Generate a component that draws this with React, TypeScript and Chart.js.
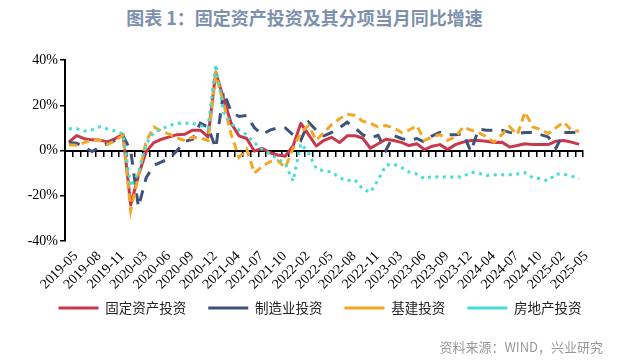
import React, { useEffect, useRef } from "react";
import { Chart, registerables } from "chart.js";

Chart.register(...registerables);

const months = [
  "2019-05", "2019-06", "2019-07", "2019-08", "2019-09", "2019-10", "2019-11", "2019-12",
  "2020-02", "2020-03", "2020-04", "2020-05", "2020-06", "2020-07", "2020-08", "2020-09", "2020-10", "2020-11", "2020-12",
  "2021-02", "2021-03", "2021-04", "2021-05", "2021-06", "2021-07", "2021-08", "2021-09", "2021-10", "2021-11", "2021-12",
  "2022-02", "2022-03", "2022-04", "2022-05", "2022-06", "2022-07", "2022-08", "2022-09", "2022-10", "2022-11", "2022-12",
  "2023-02", "2023-03", "2023-04", "2023-05", "2023-06", "2023-07", "2023-08", "2023-09", "2023-10", "2023-11", "2023-12",
  "2024-02", "2024-03", "2024-04", "2024-05", "2024-06", "2024-07", "2024-08", "2024-09", "2024-10", "2024-11", "2024-12",
  "2025-02", "2025-03", "2025-04", "2025-05",
];

// 固定资产投资 当月同比 (%)
const faiYoy = [
  3.7, 6.6, 5.2, 4.7, 4.6, 3.8, 5.3, 7.2,
  -24, -11, -0.5, 3.5, 5, 6, 7, 7.2, 9, 9, 6,
  34.5, 23, 12, 6.5, 5.3, -0.3, 1, -1, -2, -2.5, 2,
  12, 7, 2, 4.5, 5.8, 3.5, 6.5, 6.5, 5.5, 1, 3,
  5, 4.4, 3.6, 2.2, 3, 0.4, 1.9, 2.6, 0.4, 2.6, 3.7,
  4.4, 4.4, 4.1, 3.5, 3.7, 1.5, 2.2, 3, 2.6, 2.6, 2.6,
  4.1, 4.4, 3.7, 2.7,
];

// 制造业投资 当月同比 (%)
const mfgYoy = [
  3.5, 3.2, 1.5, -0.5, 1.5, 3, 4.5, 6.5,
  0, -25, -12, -6.5, -5, -3.5, 0, 4, 5, 12, 10.4,
  1, 26, 17, 15, 15.5, 10, 7, 9, 10, 10, 7,
  4.5, 12.5, 9, 6.5, 8, 10, 12.5, 10, 7, 5.5, 6.7,
  0, 6.7, 5.3, 4.4, 5.3, 3.7, 6.5, 8, 7, 7, 7.5,
  -0.5, 9.5, 9, 9, 9, 8, 7.5, 8, 8, 7, 6,
  1, 8, 8, 8,
];

// 基建投资 当月同比 (%)
const infraYoy = [
  2.5, 2.3, 3.5, 4.7, 4.5, 2.7, 4.4, 6.7,
  -26.5, -11, 4, 10.4, 8.5, 7.2, 5.5, 4.4, 5.9, 5.5, 4.4,
  33.5, 21, 7, -3, 0.5, -10, -7, -5, -4.5, -7.5, 1,
  8, 11, 4.5, 8, 11.5, 14, 16, 15.5, 13, 12, 10.4,
  11, 10, 8, 9, 11, 4.5, 6, 7, 4.5, 6, 10.4,
  9, 8, 6, 3.7, 7, 10.5, 7, 17, 10.4, 9.3, 7.5,
  10, 12.6, 9, 8.5,
];

// 房地产投资 当月同比 (%)
const reYoy = [
  9.6, 9.6, 8.6, 9.2, 10.5, 9.5, 8.6, 7.4,
  -16, -9.6, 3, 8, 9.5, 11, 12, 12, 12, 11, 10,
  38, 17, 12, 9, 7, 3.5, 0.5, -1.5, -3.5, -6, -13.5,
  3, -1, -8, -9, -9.5, -12, -13.3, -13, -17, -18.5, -13,
  -6.5, -6, -7.5, -9.5, -10.4, -12.5, -11.4, -11.8, -11.6, -11.8, -11.5,
  -9.6, -10, -11, -10.8, -10.7, -10.7, -10.4, -9.8, -12, -12.5, -13.4,
  -10.4, -10.5, -11.3, -12.4,
];

const seriesNames = ["固定资产投资", "制造业投资", "基建投资", "房地产投资"];
const yMin = -40;
const yMax = 40;
const yStep = 20;
const labelEvery = 3;
const titleText = "图表 1：固定资产投资及其分项当月同比增速";
const sourceText = "资料来源：WIND，兴业研究";

export default function App() {
  const ref = useRef<HTMLCanvasElement>(null);

  useEffect(() => {
    const chart = new Chart(ref.current as HTMLCanvasElement, {
      type: "line",
      data: {
        labels: months,
        datasets: [
          {
            label: seriesNames[0],
            data: faiYoy,
            borderColor: "#C9374B",
            backgroundColor: "#C9374B",
            borderWidth: 3,
            pointRadius: 0,
            tension: 0,
            borderJoinStyle: "round",
            order: 4,
          },
          {
            label: seriesNames[1],
            data: mfgYoy,
            borderColor: "#3E5379",
            backgroundColor: "#3E5379",
            borderWidth: 3,
            borderDash: [11, 9],
            pointRadius: 0,
            tension: 0,
            order: 3,
          },
          {
            label: seriesNames[2],
            data: infraYoy,
            borderColor: "#F5A623",
            backgroundColor: "#F5A623",
            borderWidth: 3,
            borderDash: [8, 5],
            pointRadius: 0,
            tension: 0,
            order: 2,
          },
          {
            label: seriesNames[3],
            data: reYoy,
            borderColor: "#45DDD5",
            backgroundColor: "#45DDD5",
            borderWidth: 3,
            borderDash: [3, 4.5],
            borderCapStyle: "butt",
            pointRadius: 0,
            tension: 0,
            order: 1,
          },
        ],
      },
      options: {
        responsive: false,
        animation: false,
        devicePixelRatio: 1,
        layout: { padding: { left: 0, right: 0, top: 60, bottom: 37.25 } },
        plugins: {
          title: { display: false },
          tooltip: { enabled: false },
          legend: {
            position: "bottom",
            labels: {
              usePointStyle: true,
              pointStyle: "line",
              pointStyleWidth: 40,
              padding: 22,
              color: "#222",
              font: { family: "'Noto Sans CJK SC', sans-serif", size: 13.5 },
              sort: (a: any, b: any) => a.datasetIndex - b.datasetIndex,
            },
          },
        },
        scales: {
          x: {
            type: "category",
            position: { y: 0 } as any,
            offset: true,
            grid: {
              display: true,
              offset: true,
              drawOnChartArea: false,
              drawTicks: true,
              tickLength: 5,
              color: "#000",
              lineWidth: 1.5,
            },
            border: { display: true, color: "#000", width: 2 },
            ticks: { display: false },
            afterFit: (s: any) => {
              s.height = 0;
            },
          },
          x2: {
            type: "category",
            position: "bottom",
            offset: true,
            grid: { display: false, drawTicks: false },
            border: { display: false },
            ticks: {
              autoSkip: false,
              maxRotation: 45,
              minRotation: 45,
              padding: 7,
              labelOffset: 7,
              color: "#000",
              font: { family: "'Liberation Serif', serif", size: 14 },
              callback: (_v: any, i: number) => (i % labelEvery === 0 ? months[i] : ""),
            },
            afterFit: (s: any) => {
              s.height = 38.25;
              // let the rotated labels extend below the reserved box without being clipped
              s._computeLabelArea = () => undefined;
            },
          },
          y: {
            min: yMin,
            max: yMax,
            grid: {
              drawOnChartArea: false,
              drawTicks: true,
              tickLength: 5,
              color: "#000",
              lineWidth: 1.5,
            },
            border: { display: true, color: "#000", width: 2 },
            ticks: {
              stepSize: yStep,
              padding: 2,
              color: "#000",
              font: { family: "'Liberation Serif', serif", size: 14 },
              callback: (v: any) => v + "%",
            },
            afterFit: (s: any) => {
              s.width = 65;
            },
          },
          yRightSpace: {
            type: "linear",
            position: "right",
            display: true,
            grid: { display: false, drawTicks: false },
            border: { display: false },
            ticks: { display: false },
            afterFit: (s: any) => {
              s.width = 57;
            },
          },
        },
      },
    });
    return () => chart.destroy();
  }, []);

  return (
    <div style={{ position: "absolute", left: 0, top: 0, width: 640, height: 362, background: "#fff" }}>
      <div
        style={{
          position: "absolute",
          left: 0,
          top: 6,
          width: 609,
          textAlign: "center",
          fontFamily: "'Noto Sans CJK SC', sans-serif",
          fontWeight: 700,
          fontSize: 18,
          lineHeight: "22px",
          color: "#7D90AC",
          whiteSpace: "nowrap",
        }}
      >
        {titleText}
      </div>
      <canvas ref={ref} width={640} height={362} style={{ position: "absolute", left: 0, top: 0 }} />
      <div
        style={{
          position: "absolute",
          right: 37,
          top: 337,
          fontFamily: "'Noto Sans CJK SC', sans-serif",
          fontSize: 13,
          lineHeight: "20px",
          color: "#999",
          whiteSpace: "nowrap",
        }}
      >
        {sourceText}
      </div>
    </div>
  );
}
